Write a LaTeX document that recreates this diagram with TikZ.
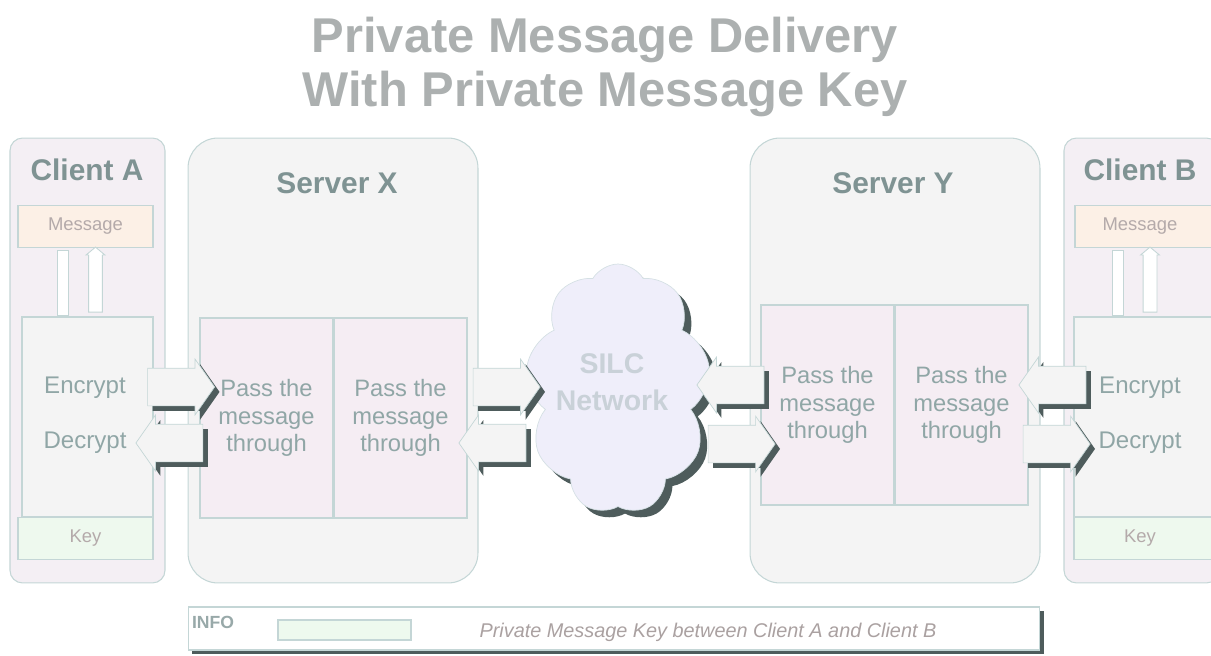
\documentclass[tikz,border=0pt]{standalone}
\usepackage{fontspec}
\setmainfont{Liberation Sans}
\usetikzlibrary{shapes.arrows,shapes.symbols,shadows}

\definecolor{edge}{HTML}{C4D6D6}
\definecolor{clientfill}{HTML}{F4EFF4}
\definecolor{serverfill}{HTML}{F4F4F4}
\definecolor{passfill}{HTML}{F5EDF3}
\definecolor{msgfill}{HTML}{FCF0E6}
\definecolor{keyfill}{HTML}{EEF9EE}
\definecolor{cloudfill}{HTML}{EFEEFA}
\definecolor{shade}{HTML}{4E5C5C}
\definecolor{labeltext}{HTML}{7F9393}
\definecolor{bodytext}{HTML}{90A6A6}
\definecolor{softtext}{HTML}{B4AAAA}
\definecolor{titletext}{HTML}{ACB0B0}

\begin{document}
\begin{tikzpicture}[x=0.02cm, y=-0.02cm,
    box/.style={draw=edge, line width=0.6pt, inner sep=0pt},
    client/.style={box, rounded corners=0.25cm, fill=clientfill, minimum width=3.1cm, minimum height=8.9cm},
    server/.style={box, rounded corners=0.6cm, fill=serverfill, minimum width=5.8cm, minimum height=8.9cm},
    part/.style={box, fill=passfill, minimum width=2.66cm, minimum height=4cm, align=center,
        text=bodytext, font=\fontsize{13.5}{15.5}\selectfont},
    strip/.style={box, minimum height=0.84cm, text=softtext, font=\fontsize{10.5}{12}\selectfont},
    heading/.style={text=labeltext, font=\bfseries\fontsize{17}{20}\selectfont},
    crypt/.style={text=bodytext, font=\fontsize{13.7}{16}\selectfont},
    blockarrow/.style={single arrow, draw=edge, line width=0.4pt, fill=serverfill, inner sep=0.37cm,
        minimum height=1.34cm, single arrow head extend=0.18cm, single arrow tip angle=110,
        drop shadow={shadow xshift=2.8pt, shadow yshift=-2.8pt, fill=shade, opacity=1}},
    bar/.style={draw=edge, line width=0.5pt, fill=white, inner sep=0.13cm, minimum height=1.3cm}
]
\useasboundingbox (0,0) rectangle (1211,656);

% title
\node[text=titletext, align=center, font=\bfseries\fontsize{27.8}{30.6}\selectfont] (title) at (605,67)
    {Private Message Delivery\\With Private Message Key};

% the four columns
\node[client] (cliA) at (87.5,360.5) {};
\node[server] (srvX) at (333,360.5) {};
\node[server] (srvY) at (895,360.5) {};
\node[client] (cliB) at (1141.5,360.5) {};

\node[heading] at (87,170) {Client A};
\node[heading] at (337,183) {Server X};
\node[heading] at (893,183) {Server Y};
\node[heading] at (1140,170) {Client B};

% client A
\node[strip, fill=msgfill, minimum width=2.7cm] (msgA) at (85.5,226.5) {Message};
\node[box, fill=serverfill, minimum width=2.62cm, minimum height=4cm] (boxA) at (87.5,417) {};
\node[strip, fill=keyfill, minimum width=2.7cm] (keyA) at (85.5,538.5) {Key};
\node[bar, rectangle, minimum width=0.22cm, inner sep=0pt] (downA) at (62.5,282.5) {};
\node[bar, single arrow, shape border rotate=90, single arrow head extend=0.05cm,
    single arrow tip angle=100] (upA) at (95.5,282.5) {};
\node[crypt] (encA) at (85,388) {Encrypt};
\node[crypt] (decA) at (85,443) {Decrypt};

% client B
\node[strip, fill=msgfill, minimum width=2.8cm] (msgB) at (1145,226.5) {};
\node[text=softtext, font=\fontsize{10.5}{12}\selectfont] at (1140,226.5) {Message};
\node[box, fill=serverfill, minimum width=2.84cm, minimum height=4cm] (boxB) at (1145,417) {};
\node[strip, fill=keyfill, minimum width=2.84cm] (keyB) at (1145,538.5) {};
\node[text=softtext, font=\fontsize{10.5}{12}\selectfont] at (1140,538.5) {Key};
\node[bar, rectangle, minimum width=0.22cm, inner sep=0pt] (downB) at (1117.5,282.5) {};
\node[bar, single arrow, shape border rotate=90, single arrow head extend=0.05cm,
    single arrow tip angle=100] (upB) at (1150,282.5) {};
\node[crypt] (encB) at (1140,388) {Encrypt};
\node[crypt] (decB) at (1140,443) {Decrypt};

% servers
\node[part] (passX1) at (266.5,418) {Pass the\\message\\through};
\node[part] (passX2) at (400.5,418) {Pass the\\message\\through};
\node[part] (passY1) at (827.5,405) {Pass the\\message\\through};
\node[part] (passY2) at (961.5,405) {Pass the\\message\\through};

% network
\node[cloud, cloud puffs=9, cloud puff arc=120, aspect=0.74, draw=edge!60!cloudfill, fill=cloudfill,
    minimum width=3.7cm, minimum height=5cm, inner sep=0pt,
    drop shadow={shadow xshift=4pt, shadow yshift=-4pt, fill=shade, opacity=1}] (silc) at (618,389) {};
\node[text=cloudfill!60!bodytext, align=center, font=\bfseries\fontsize{16.2}{21}\selectfont] at (612,382)
    {SILC\\Network};

% traffic between the columns
\node[blockarrow] (a1) at (174.5,387) {};
\node[blockarrow, shape border rotate=180] (a2) at (176,443) {};
\node[blockarrow] (a3) at (500,387) {};
\node[blockarrow, shape border rotate=180] (a4) at (499,443) {};
\node[blockarrow, shape border rotate=180] (a5) at (737,385) {};
\node[blockarrow] (a6) at (735,444) {};
\node[blockarrow, shape border rotate=180] (a7) at (1059,385) {};
\node[blockarrow] (a8) at (1050,444) {};

% legend
\node[box, fill=white, minimum width=17.04cm, minimum height=0.86cm,
    drop shadow={shadow xshift=2.5pt, shadow yshift=-2.5pt, fill=shade, opacity=1}] (info) at (614,628.5) {};
\node[text=labeltext!80!white, font=\bfseries\fontsize{10}{12}\selectfont] at (213,622) {INFO};
\node[box, fill=keyfill, minimum width=2.66cm, minimum height=0.4cm] (keyswatch) at (344.5,630) {};
\node[text=softtext!80!gray, font=\itshape\fontsize{11.3}{13}\selectfont] at (708,632)
    {Private Message Key between Client A and Client B};
\end{tikzpicture}
\end{document}
